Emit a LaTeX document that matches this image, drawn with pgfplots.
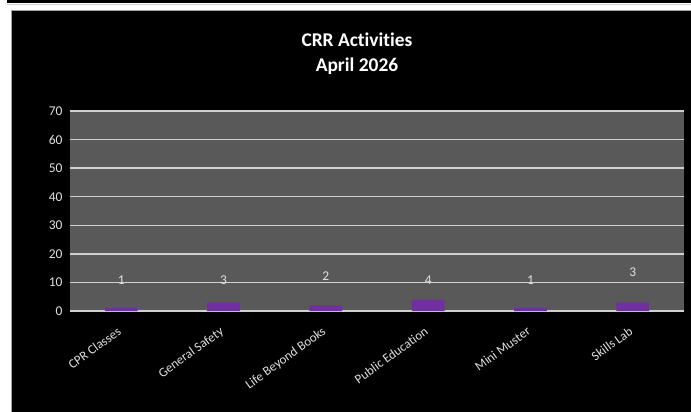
\documentclass[border=0pt]{standalone}
\usepackage{pgfplots}
\pgfplotsset{compat=1.18}
\usepackage{pgfplotstable}
\usepackage{fontspec}
\setmainfont{Carlito}[Ligatures=NoCommon]

\definecolor{plotbg}{HTML}{595959}
\definecolor{gridcol}{HTML}{D0D0D0}
\definecolor{barpurple}{HTML}{7030A0}
\definecolor{labelcol}{HTML}{E0E0E0}
\definecolor{framecol}{HTML}{A0A0A0}

% x: category index, v: count, ly: height of the count label
\pgfplotstableread{
x v ly
0 1 10.85
1 3 10.85
2 2 12.2
3 4 10.85
4 1 10.85
5 3 13.6
}\activities

\begin{document}
\begin{tikzpicture}[x=1bp,y=1bp]
  \useasboundingbox (0,0) rectangle (691,411);
  \fill[white] (0,0) rectangle (691,411);
  \fill[black] (7,408) rectangle (691,411);
  \draw[gridcol, line width=0.8bp] (7,407) -- (691,407);
  \fill[black, draw=framecol, line width=1bp] (11,-2) rectangle (693,400);

  \node[white, font=\fontsize{19.5}{25}\selectfont\bfseries, align=center]
    at (357,357) {CRR Activities\\April 2026};

  \begin{axis}[
    at={(70bp,100bp)}, anchor=south west,
    scale only axis, width=614bp, height=200bp,
    xmin=-0.5, xmax=5.5, ymin=0, ymax=70,
    ytick={0,10,...,70},
    xtick={0,...,5},
    xticklabels={CPR Classes, General Safety, Life Beyond Books, Public Education, Mini Muster, Skills Lab},
    axis background/.style={fill=plotbg},
    axis line style={draw=none},
    major tick length=0pt,
    ymajorgrids,
    grid style={gridcol, line width=1.3bp},
    /pgf/number format/assume math mode=true,
    tick label style={labelcol, font=\fontsize{13.5}{16}\selectfont},
    yticklabel style={xshift=-4bp},
    xticklabel style={rotate=36, anchor=north east, xshift=-9bp, yshift=-6bp,
      font=\fontsize{13}{15}\selectfont},
    clip=false,
  ]
    \addplot[ybar, bar width=0.32, fill=barpurple, draw=none]
      table[x=x, y=v] {\activities};
    \addplot[draw=none, mark=none, nodes near coords, point meta=explicit,
      every node near coord/.style={anchor=center, labelcol,
        font=\fontsize{13.5}{16}\selectfont}]
      table[x=x, y=ly, meta=v] {\activities};
  \end{axis}
\end{tikzpicture}
\end{document}
